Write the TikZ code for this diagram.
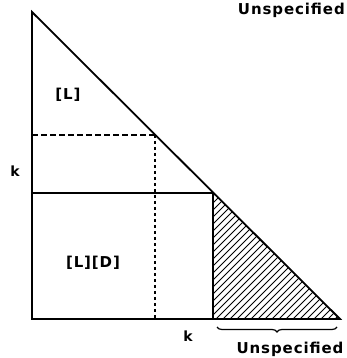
\documentclass[tikz,border=0pt]{standalone}
\usepackage{fontspec}
\newfontfamily\lblfont[LetterSpace=6]{DejaVu Sans}
\usetikzlibrary{decorations.pathreplacing}

\begin{document}
\begin{tikzpicture}[x=1pt,y=1pt,
    lbl/.style={font=\lblfont\bfseries\fontsize{15}{17}\selectfont, inner sep=0pt},
    klbl/.style={font=\lblfont\bfseries\fontsize{14}{16}\selectfont, inner sep=0pt},
    bigline/.style={line width=1.8pt},
    hatch/.style={line width=1pt}]
        \useasboundingbox (0,0) rectangle (347,358);
        % The shaded corner under the line.
        \begin{scope}
            \clip (213,39) -- (213,165) -- (340,39) -- cycle;
            \foreach \c in {44,51,...,310}
                \draw[hatch] (\c,0) -- ++(220,220);
        \end{scope}
        % Axes, slope and the solid box.
        \draw[bigline] (32,346) -- (32,39) -- (340,39) -- cycle;
        \draw[bigline] (32,165) -- (213,165) -- (213,39);
        % Dashed guides.
            \draw[line width=1.4pt, dash pattern=on 6pt off 3pt] (32,223) -- (155,223);
            \draw[line width=1.4pt, dash pattern=on 3pt off 3pt] (155,223) -- (155,39);
        % Below nodes are the labels.
            \node[lbl] (lset) at (68, 263) {[L]};
            \node[lbl] (ldset) at (93, 95) {[L][D]};
            \node[klbl] (kleft) at (15, 187) {k};
            \node[klbl] (kbot) at (188, 22) {k};
            \draw[line width=1.2pt, decorate, decoration={brace, mirror, amplitude=5pt}] (217,31) -- (337,31);
            \node[lbl] (unspbot) at (290, 9) {Unspecified};
            \node[lbl, anchor=east] (unsptop) at (345, 348) {Unspecified};
    \end{tikzpicture}
\end{document}
